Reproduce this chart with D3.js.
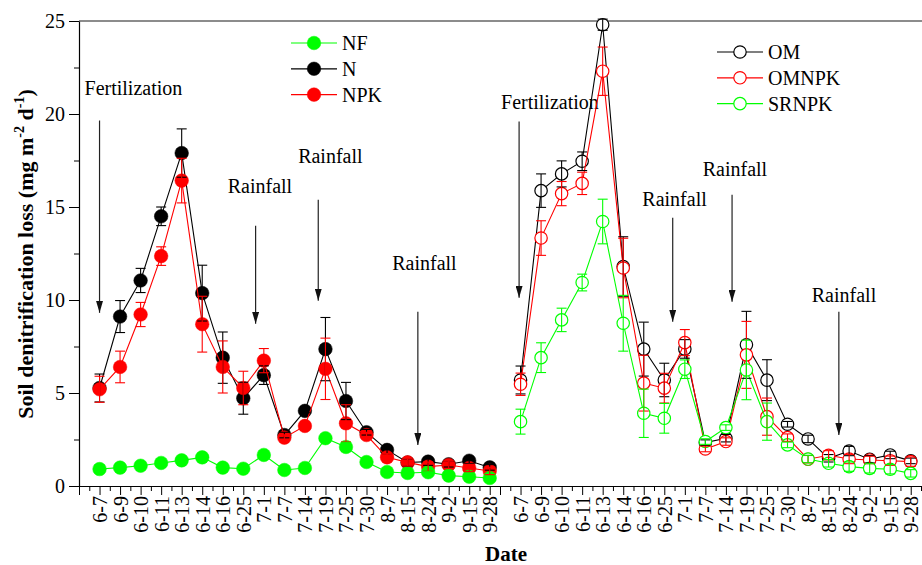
<!DOCTYPE html>
<html>
<head>
<meta charset="utf-8">
<script src="https://cdn.jsdelivr.net/npm/d3@7"></script>
<style>
  body { margin: 0; background: #fff; }
  svg text { font-family: "Times New Roman", "Liberation Serif", serif; }
</style>
</head>
<body>
<svg id="chart" width="922" height="565"></svg>
<script>
// sampling dates (same for both panels)
var dates = ["6-7","6-9","6-10","6-11","6-13","6-14","6-16","6-25","7-1","7-7","7-14","7-19","7-25","7-30","8-7","8-15","8-24","9-2","9-15","9-28"];

// left panel (filled symbols)
var nf     = [0.91,0.99,1.09,1.24,1.38,1.54,0.99,0.93,1.67,0.86,0.97,2.57,2.1,1.29,0.75,0.7,0.74,0.56,0.5,0.43];
var nfErr  = [0.05,0.05,0.05,0.05,0.05,0.05,0.05,0.05,0.05,0.05,0.05,0.1,0.25,0.05,0.05,0.05,0.05,0.05,0.05,0.05];
var n      = [5.27,9.11,11.05,14.5,17.9,10.37,6.9,4.72,5.96,2.74,4.04,7.36,4.57,2.89,1.94,1.26,1.31,1.17,1.36,1.0];
var nErr   = [0.75,0.86,0.65,0.5,1.3,1.5,1.38,0.86,0.5,0.15,0.1,1.7,1.0,0.15,0.2,0.2,0.2,0.15,0.15,0.15];
var npk    = [5.2,6.4,9.22,12.36,16.42,8.7,6.4,5.27,6.74,2.6,3.23,6.3,3.37,2.74,1.54,1.27,1.04,1.13,0.97,0.81];
var npkErr = [0.7,0.85,0.65,0.5,1.2,1.5,1.4,0.9,0.65,0.15,0.1,1.65,1.0,0.15,0.2,0.2,0.25,0.2,0.2,0.2];

// right panel (open symbols)
var om       = [5.7,15.88,16.78,17.46,24.8,11.8,7.36,5.7,7.37,2.33,2.57,7.59,5.69,3.32,2.53,1.49,1.88,1.44,1.67,1.35];
var omErr    = [0.75,0.9,0.7,0.5,0.3,1.6,1.45,0.9,0.5,0.15,0.2,1.8,1.1,0.15,0.2,0.2,0.25,0.2,0.2,0.15];
var omnpk    = [5.47,13.33,15.72,16.27,22.3,11.72,5.53,5.26,7.71,1.99,2.39,7.05,3.73,2.6,1.44,1.65,1.45,1.4,1.36,1.31];
var omnpkErr = [0.6,0.93,0.65,0.6,1.3,1.6,1.5,0.8,0.7,0.15,0.2,1.8,1.0,0.2,0.2,0.25,0.25,0.2,0.25,0.25];
var srnpk    = [3.46,6.9,8.93,10.94,14.22,8.75,3.91,3.64,6.28,2.39,3.14,6.24,3.46,2.21,1.45,1.22,1.04,0.95,0.9,0.68];
var srnpkErr = [0.67,0.8,0.63,0.45,1.2,1.5,1.3,0.8,0.5,0.15,0.15,1.6,1.0,0.15,0.2,0.2,0.25,0.25,0.25,0.2];

var yTicks = [0, 5, 10, 15, 20, 25];

// event markers: category position, arrow top/tip and label position in data units
var leftNotes = [
  { label: "Fertilization", pos: 1.0,  top: 19.65, tip: 9.31, tx: 2.65,  ty: 21.04 },
  { label: "Rainfall",      pos: 8.6,  top: 13.99, tip: 8.72, tx: 8.81,  ty: 15.77 },
  { label: "Rainfall",      pos: 11.65, top: 15.39, tip: 9.96, tx: 12.24, ty: 17.38 },
  { label: "Rainfall",      pos: 16.5, top: 9.37,  tip: 2.2,  tx: 16.82, ty: 11.63 }
];
var rightNotes = [
  { label: "Fertilization", pos: 0.93, top: 19.6,  tip: 10.12, tx: 2.43,  ty: 20.29 },
  { label: "Rainfall",      pos: 8.41, top: 14.42, tip: 8.83,  tx: 8.5,   ty: 15.07 },
  { label: "Rainfall",      pos: 11.3, top: 15.66, tip: 9.9,   tx: 11.44, ty: 16.68 },
  { label: "Rainfall",      pos: 16.5, top: 9.37,  tip: 2.74,  tx: 16.75, ty: 9.9 }
];

var svg = d3.select("#chart");
var top0 = 21, bottom0 = 486, left0 = 79, mid = 500, right0 = 921;

var y = d3.scaleLinear().domain([0, 25]).range([bottom0, top0]);
var xL = d3.scaleLinear().domain([0, 20.5]).range([left0, mid]);
var xR = d3.scaleLinear().domain([0, 20.5]).range([mid, right0]);

svg.append("defs").append("marker")
  .attr("id", "arrow")
  .attr("viewBox", "0 0 12 7")
  .attr("refX", 12).attr("refY", 3.5)
  .attr("markerWidth", 12).attr("markerHeight", 7)
  .attr("markerUnits", "userSpaceOnUse")
  .attr("orient", "auto")
  .append("path").attr("d", "M0,0 L12,3.5 L0,7 Z").attr("fill", "#111");

// top frame line
svg.append("line")
  .attr("x1", left0).attr("x2", 922)
  .attr("y1", top0).attr("y2", top0)
  .attr("stroke", "#666").attr("stroke-width", 1.5);

// y axis
var yAxis = svg.append("g")
  .attr("transform", "translate(" + left0 + ",0)")
  .call(d3.axisLeft(y).tickValues(yTicks).tickSize(10).tickSizeOuter(0).tickPadding(4));
yAxis.select(".domain").attr("stroke-width", 1.2);
yAxis.selectAll("text").attr("font-size", 20).attr("font-family", "Times New Roman, Liberation Serif, serif");
svg.append("g")
  .attr("transform", "translate(" + left0 + ",0)")
  .call(d3.axisLeft(y).tickValues([2.5, 7.5, 12.5, 17.5, 22.5]).tickSize(5).tickFormat(""))
  .select(".domain").remove();

// x axes, one per panel
function drawX(x) {
  var g = svg.append("g")
    .attr("transform", "translate(0," + bottom0 + ")")
    .call(d3.axisBottom(x).tickValues(d3.range(0, 21)).tickSize(9).tickSizeOuter(0)
      .tickFormat(function(i) { return i > 0 ? dates[i - 1] : ""; }));
  g.select(".domain").attr("stroke-width", 1.2);
  g.selectAll("text")
    .attr("font-size", 20)
    .attr("font-family", "Times New Roman, Liberation Serif, serif")
    .attr("text-anchor", "end")
    .attr("transform", "rotate(-90)")
    .attr("x", -10).attr("y", 0).attr("dy", "0.35em");
  svg.append("g")
    .attr("transform", "translate(0," + bottom0 + ")")
    .call(d3.axisBottom(x).tickValues(d3.range(0.5, 20.6, 1)).tickSize(5).tickFormat(""))
    .select(".domain").remove();
}
drawX(xL);
drawX(xR);

// annotations (arrows + text)
function drawNotes(x, notes) {
  notes.forEach(function(d) {
    svg.append("line")
      .attr("x1", x(d.pos)).attr("x2", x(d.pos))
      .attr("y1", y(d.top)).attr("y2", y(d.tip))
      .attr("stroke", "#222").attr("stroke-width", 1.2)
      .attr("marker-end", "url(#arrow)");
    svg.append("text")
      .attr("x", x(d.tx)).attr("y", y(d.ty))
      .attr("text-anchor", "middle")
      .attr("font-size", 20)
      .text(d.label);
  });
}
drawNotes(xL, leftNotes);
drawNotes(xR, rightNotes);

// series
function drawSeries(x, vals, errs, color, filled) {
  var pts = vals.map(function(v, i) { return { pos: i + 1, v: v, e: errs[i] }; });
  var line = d3.line().x(function(d) { return x(d.pos); }).y(function(d) { return y(d.v); });
  svg.append("path").datum(pts)
    .attr("d", line).attr("fill", "none")
    .attr("stroke", color).attr("stroke-width", 1.1);
  svg.selectAll(null).data(pts).enter().append("circle")
    .attr("cx", function(d) { return x(d.pos); })
    .attr("cy", function(d) { return y(d.v); })
    .attr("r", filled ? 6.8 : 6.2)
    .attr("fill", filled ? color : "#fff")
    .attr("stroke", color).attr("stroke-width", filled ? 0.5 : 1.2);
  return pts;
}
function drawErr(x, pts, color) {
  var g = svg.append("g").attr("stroke", color).attr("stroke-width", 1.1);
  pts.forEach(function(d) {
    var cx = x(d.pos), y1 = y(d.v + d.e), y2 = y(d.v - d.e);
    g.append("line").attr("x1", cx).attr("x2", cx).attr("y1", y1).attr("y2", y2);
    g.append("line").attr("x1", cx - 5).attr("x2", cx + 5).attr("y1", y1).attr("y2", y1);
    g.append("line").attr("x1", cx - 5).attr("x2", cx + 5).attr("y1", y2).attr("y2", y2);
  });
}

var GREEN = "#00ff00", RED = "#ff0000", BLACK = "#000000";

var pN = drawSeries(xL, n, nErr, BLACK, true);
var pNPK = drawSeries(xL, npk, npkErr, RED, true);
var pNF = drawSeries(xL, nf, nfErr, GREEN, true);
drawErr(xL, pN, BLACK);
drawErr(xL, pNPK, RED);
drawErr(xL, pNF, GREEN);

var pOM = drawSeries(xR, om, omErr, BLACK, false);
var pOMNPK = drawSeries(xR, omnpk, omnpkErr, RED, false);
var pSR = drawSeries(xR, srnpk, srnpkErr, GREEN, false);
drawErr(xR, pOM, BLACK);
drawErr(xR, pOMNPK, RED);
drawErr(xR, pSR, GREEN);

// legends
function legend(items, lx, ly, filled) {
  items.forEach(function(it, i) {
    var yy = ly + i * 25.8;
    svg.append("line").attr("x1", lx).attr("x2", lx + 46).attr("y1", yy).attr("y2", yy)
      .attr("stroke", it.color).attr("stroke-width", 1.2);
    svg.append("circle").attr("cx", lx + 23).attr("cy", yy).attr("r", filled ? 6.8 : 6.2)
      .attr("fill", filled ? it.color : "#fff").attr("stroke", it.color)
      .attr("stroke-width", filled ? 0.5 : 1.2);
    svg.append("text").attr("x", lx + 51).attr("y", yy).attr("dy", "0.35em")
      .attr("font-size", 20).text(it.name);
  });
}
legend([{ name: "NF", color: GREEN }, { name: "N", color: BLACK }, { name: "NPK", color: RED }], 291, 43, true);
legend([{ name: "OM", color: BLACK }, { name: "OMNPK", color: RED }, { name: "SRNPK", color: GREEN }], 717, 52, false);

// axis titles
var yt = svg.append("text")
  .attr("transform", "translate(33,254) rotate(-90)")
  .attr("text-anchor", "middle")
  .attr("font-size", 22).attr("font-weight", "bold");
yt.append("tspan").text("Soil denitrification loss (mg m");
yt.append("tspan").attr("font-size", 14).attr("dy", -9).text("-2");
yt.append("tspan").attr("dy", 9).text(" d");
yt.append("tspan").attr("font-size", 14).attr("dy", -9).text("-1");
yt.append("tspan").attr("dy", 9).text(")");

svg.append("text")
  .attr("x", 506).attr("y", 561)
  .attr("text-anchor", "middle")
  .attr("font-size", 21).attr("font-weight", "bold")
  .text("Date");
</script>
</body>
</html>
